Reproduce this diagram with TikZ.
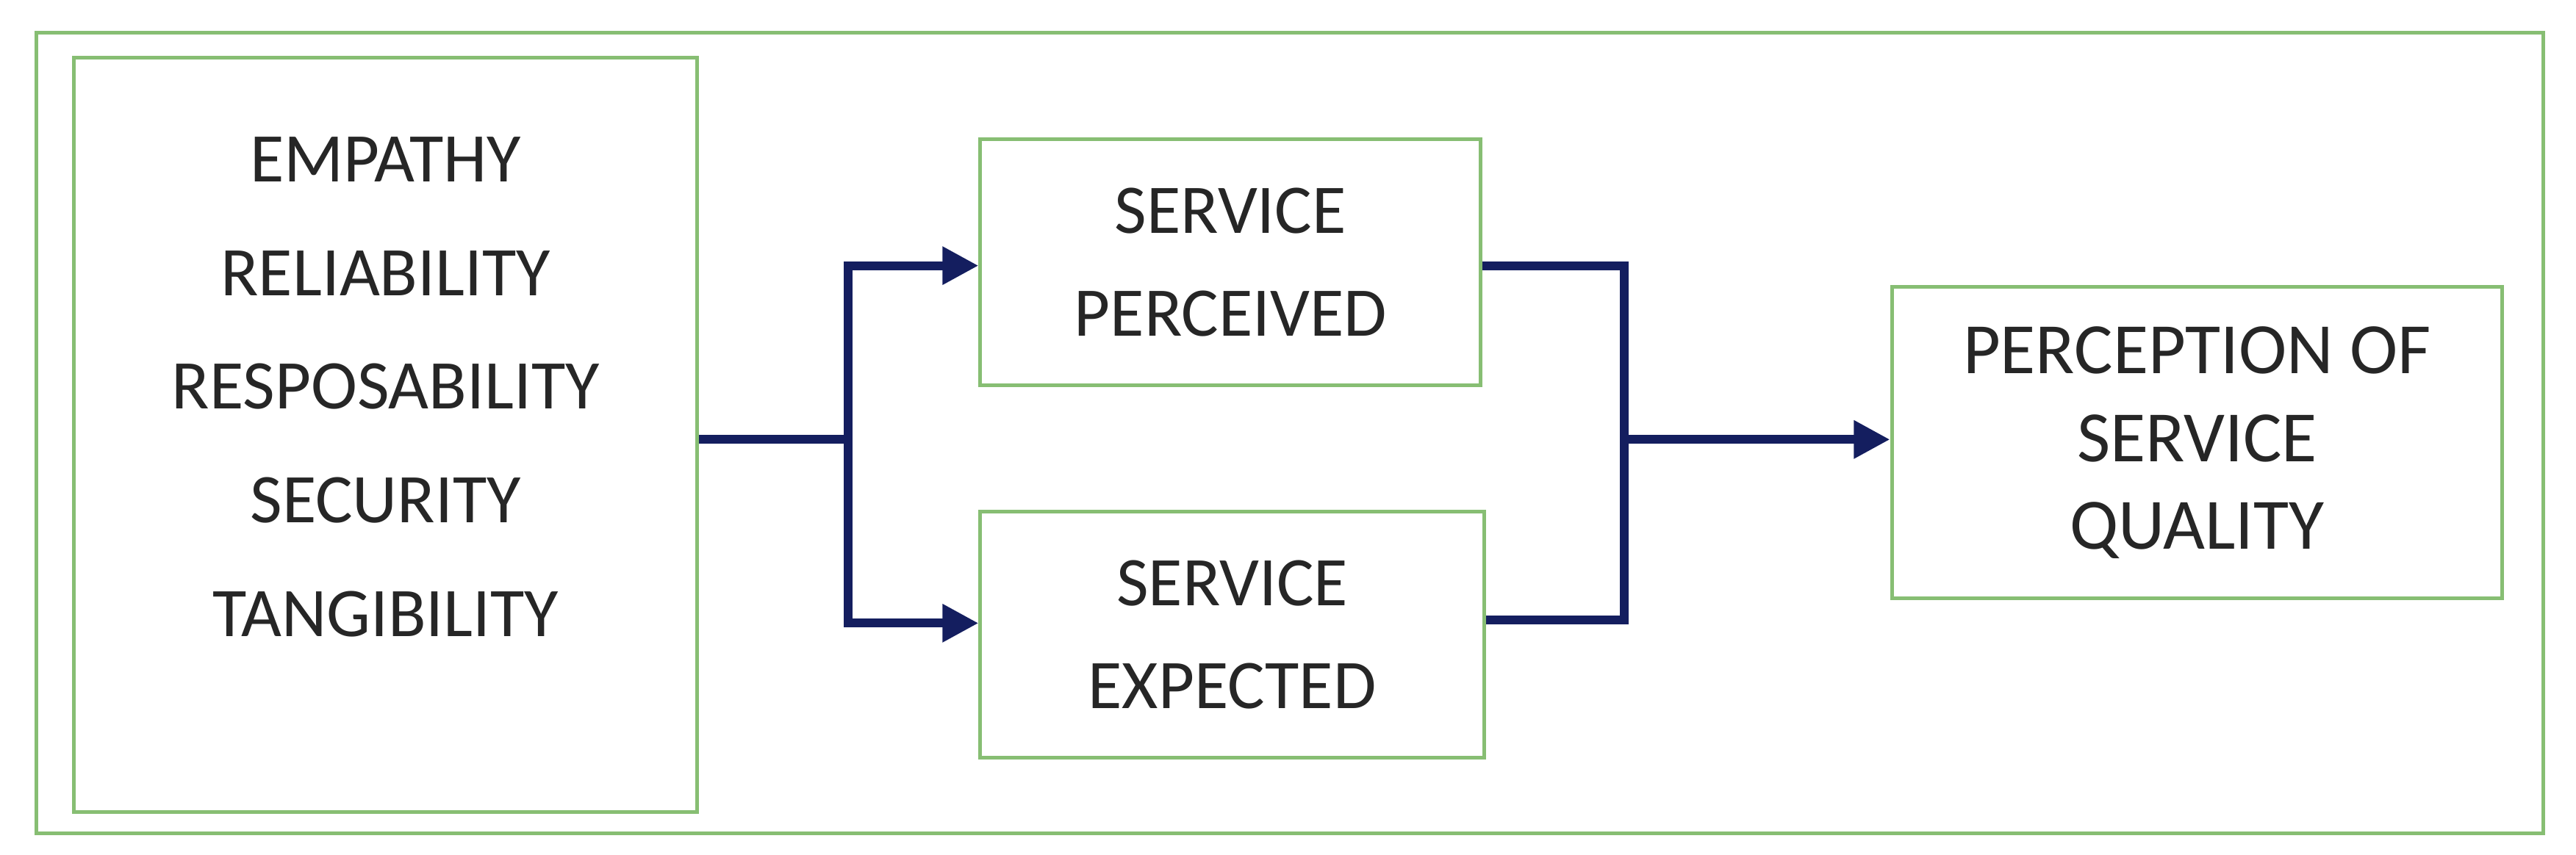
\documentclass[tikz,border=0pt]{standalone}
\usepackage{fontspec}
\setmainfont{Carlito}
\usetikzlibrary{arrows.meta}
\definecolor{gbord}{RGB}{135,190,115}
\definecolor{navy}{RGB}{20,30,95}
\begin{document}
\begin{tikzpicture}[x=0.02233cm,y=-0.02233cm,
  box/.style={draw=gbord,line width=1.4pt},
  txt/.style={align=center,font=\fontsize{27}{40}\selectfont,text=black!85},
  conn/.style={draw=navy,line width=3.4pt},
  arr/.style={conn,-{Triangle[length=14pt,width=14pt]}}]
\useasboundingbox (0,0) rectangle (1570,521);
\draw[gbord,line width=1.4pt] (22,20) rectangle (1550,508);
\node[box,minimum width=380*0.02233cm,minimum height=460*0.02233cm] (L) at (235,265) {};
\node[txt,font=\fontsize{27}{44}\selectfont] (Lt) at (235,236) {EMPATHY\\RELIABILITY\\RESPOSABILITY\\SECURITY\\TANGIBILITY};
\node[box,txt,minimum width=305*0.02233cm,minimum height=150*0.02233cm] (P) at (750,160) {SERVICE\\PERCEIVED};
\node[box,txt,minimum width=307*0.02233cm,minimum height=150*0.02233cm] (E) at (751,387) {SERVICE\\EXPECTED};
\node[box,txt,font=\fontsize{28}{34}\selectfont,minimum width=372*0.02233cm,minimum height=190*0.02233cm] (Q) at (1339,270) {PERCEPTION OF\\SERVICE\\QUALITY};
\coordinate (s) at (517,268);
\coordinate (m) at (990,268);
\draw[conn] (L.east |- s) -- (s);
\draw[arr] (s) |- (P.west |- 0,162);
\draw[arr] (s) |- (E.west |- 0,380);
\draw[conn] (P.east |- 0,162) -| (m);
\draw[conn] (E.east |- 0,378) -| (m);
\draw[arr] (m) -- (Q.west |- m);
\end{tikzpicture}
\end{document}
